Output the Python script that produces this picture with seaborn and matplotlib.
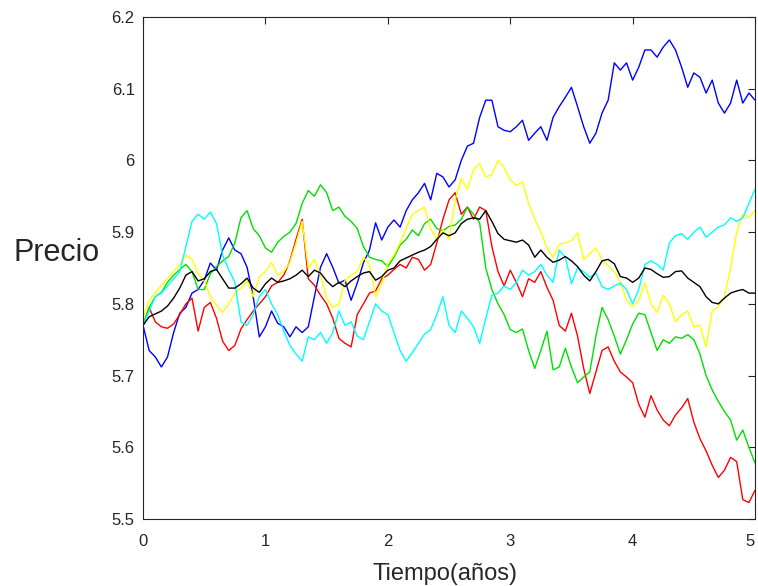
import numpy as np
import pandas as pd
import seaborn as sns
import matplotlib
matplotlib.use("Agg")
import matplotlib.pyplot as plt
from matplotlib.ticker import FormatStrFormatter

# time grid (years), one reading every 0.05 years
tiempo = np.linspace(0, 5, 101)

azul = [5.77, 5.735, 5.726, 5.712, 5.726, 5.76, 5.787, 5.795, 5.815, 5.82,
        5.833, 5.857, 5.847, 5.875, 5.892, 5.875, 5.87, 5.851, 5.81, 5.754,
        5.768, 5.79, 5.773, 5.768, 5.754, 5.768, 5.76, 5.768, 5.81, 5.851,
        5.87, 5.851, 5.829, 5.833, 5.805, 5.829, 5.857, 5.875, 5.913, 5.889,
        5.907, 5.917, 5.907, 5.93, 5.945, 5.955, 5.968, 5.945, 5.982, 5.977,
        5.963, 5.973, 6.0, 6.02, 6.024, 6.06, 6.084, 6.084, 6.047, 6.042,
        6.04, 6.047, 6.056, 6.028, 6.038, 6.047, 6.028, 6.06, 6.075, 6.088,
        6.102, 6.075, 6.047, 6.024, 6.038, 6.066, 6.084, 6.136, 6.126, 6.136,
        6.112, 6.13, 6.154, 6.154, 6.144, 6.158, 6.168, 6.154, 6.13, 6.102,
        6.122, 6.116, 6.094, 6.112, 6.08, 6.066, 6.08, 6.112, 6.08, 6.094,
        6.084]

rojo = [5.77, 5.795, 5.775, 5.768, 5.766, 5.772, 5.785, 5.80, 5.808, 5.762,
        5.795, 5.802, 5.78, 5.748, 5.735, 5.742, 5.765, 5.778, 5.79, 5.80,
        5.81, 5.825, 5.83, 5.84, 5.86, 5.89, 5.918, 5.835, 5.826, 5.812,
        5.80, 5.78, 5.752, 5.745, 5.74, 5.785, 5.80, 5.815, 5.818, 5.835,
        5.84, 5.848, 5.855, 5.85, 5.865, 5.862, 5.847, 5.855, 5.885, 5.918,
        5.945, 5.955, 5.925, 5.935, 5.918, 5.935, 5.93, 5.88, 5.845, 5.825,
        5.847, 5.83, 5.81, 5.835, 5.83, 5.845, 5.823, 5.805, 5.77, 5.762,
        5.787, 5.755, 5.71, 5.675, 5.705, 5.735, 5.74, 5.72, 5.705, 5.698,
        5.69, 5.66, 5.642, 5.672, 5.652, 5.638, 5.63, 5.645, 5.655, 5.668,
        5.635, 5.612, 5.595, 5.575, 5.558, 5.568, 5.586, 5.58, 5.527, 5.523,
        5.54]

verde = [5.77, 5.795, 5.81, 5.816, 5.83, 5.84, 5.848, 5.855, 5.845, 5.82,
         5.82, 5.842, 5.852, 5.86, 5.866, 5.885, 5.92, 5.93, 5.905, 5.895,
         5.878, 5.872, 5.886, 5.894, 5.90, 5.912, 5.94, 5.958, 5.95, 5.966,
         5.955, 5.93, 5.935, 5.922, 5.915, 5.905, 5.88, 5.865, 5.862, 5.86,
         5.852, 5.865, 5.882, 5.89, 5.903, 5.895, 5.912, 5.918, 5.905, 5.902,
         5.908, 5.91, 5.918, 5.935, 5.925, 5.913, 5.85, 5.82, 5.80, 5.785,
         5.764, 5.76, 5.765, 5.735, 5.71, 5.735, 5.762, 5.708, 5.712, 5.738,
         5.712, 5.69, 5.698, 5.705, 5.755, 5.795, 5.778, 5.755, 5.73, 5.75,
         5.772, 5.787, 5.785, 5.76, 5.735, 5.75, 5.745, 5.754, 5.752, 5.757,
         5.75, 5.73, 5.70, 5.68, 5.664, 5.65, 5.638, 5.61, 5.624, 5.60,
         5.578]

amarillo = [5.78, 5.805, 5.815, 5.826, 5.835, 5.845, 5.855, 5.868, 5.862, 5.842,
            5.832, 5.81, 5.798, 5.788, 5.80, 5.815, 5.822, 5.832, 5.81, 5.838,
            5.845, 5.858, 5.84, 5.845, 5.858, 5.885, 5.915, 5.85, 5.862, 5.84,
            5.808, 5.795, 5.80, 5.833, 5.84, 5.845, 5.865, 5.855, 5.81, 5.828,
            5.857, 5.868, 5.885, 5.905, 5.925, 5.93, 5.935, 5.905, 5.89, 5.903,
            5.89, 5.945, 5.975, 5.96, 5.987, 5.996, 5.977, 5.98, 6.0, 5.99,
            5.973, 5.965, 5.97, 5.94, 5.918, 5.90, 5.878, 5.865, 5.883, 5.885,
            5.888, 5.899, 5.862, 5.87, 5.878, 5.862, 5.853, 5.845, 5.83, 5.805,
            5.796, 5.805, 5.829, 5.80, 5.788, 5.812, 5.80, 5.775, 5.785, 5.79,
            5.768, 5.77, 5.74, 5.79, 5.796, 5.81, 5.85, 5.90, 5.925, 5.92,
            5.93]

cian = [5.77, 5.79, 5.81, 5.815, 5.825, 5.835, 5.845, 5.88, 5.915, 5.925,
        5.918, 5.928, 5.912, 5.868, 5.848, 5.83, 5.775, 5.77, 5.785, 5.81,
        5.82, 5.80, 5.785, 5.762, 5.742, 5.73, 5.72, 5.754, 5.75, 5.76,
        5.745, 5.76, 5.79, 5.77, 5.775, 5.755, 5.75, 5.775, 5.80, 5.79,
        5.785, 5.76, 5.735, 5.72, 5.732, 5.745, 5.758, 5.764, 5.785, 5.81,
        5.77, 5.76, 5.79, 5.78, 5.768, 5.745, 5.78, 5.812, 5.815, 5.825,
        5.82, 5.83, 5.847, 5.84, 5.845, 5.855, 5.84, 5.83, 5.875, 5.865,
        5.828, 5.85, 5.845, 5.837, 5.843, 5.824, 5.82, 5.825, 5.829, 5.82,
        5.80, 5.82, 5.855, 5.86, 5.855, 5.847, 5.885, 5.895, 5.898, 5.89,
        5.90, 5.907, 5.893, 5.90, 5.907, 5.91, 5.92, 5.915, 5.92, 5.94,
        5.96]

negro = [5.77, 5.782, 5.786, 5.79, 5.797, 5.808, 5.822, 5.84, 5.845, 5.832,
         5.835, 5.845, 5.848, 5.835, 5.822, 5.822, 5.828, 5.836, 5.822, 5.816,
         5.828, 5.836, 5.83, 5.832, 5.835, 5.84, 5.847, 5.838, 5.847, 5.843,
         5.832, 5.824, 5.83, 5.824, 5.832, 5.838, 5.843, 5.845, 5.833, 5.838,
         5.847, 5.85, 5.86, 5.864, 5.868, 5.872, 5.875, 5.88, 5.89, 5.899,
         5.895, 5.899, 5.912, 5.918, 5.92, 5.918, 5.93, 5.915, 5.898, 5.89,
         5.888, 5.886, 5.889, 5.882, 5.865, 5.875, 5.865, 5.858, 5.861, 5.866,
         5.86, 5.852, 5.84, 5.832, 5.845, 5.86, 5.862, 5.856, 5.838, 5.836,
         5.83, 5.836, 5.85, 5.848, 5.842, 5.837, 5.838, 5.845, 5.846, 5.836,
         5.83, 5.824, 5.81, 5.802, 5.80, 5.808, 5.815, 5.818, 5.82, 5.815,
         5.815]

series = [("azul", azul, "#0000ff"),
          ("rojo", rojo, "#ff0000"),
          ("verde", verde, "#00e000"),
          ("amarillo", amarillo, "#ffff00"),
          ("cian", cian, "#00ffff"),
          ("negro", negro, "#000000")]

sns.set_style("white")
plt.rcParams["font.family"] = ["Liberation Sans", "DejaVu Sans"]

fig = plt.figure(figsize=(7.58, 5.86), dpi=100)
ax = fig.add_axes([0.1887, 0.1143, 0.8074, 0.8567])

for name, vals, col in series:
    sns.lineplot(x=tiempo, y=vals, color=col, linewidth=1.0, ax=ax)

ax.set_xlim(0, 5)
ax.set_ylim(5.5, 6.2)
ax.set_xticks([0, 1, 2, 3, 4, 5])
ax.set_yticks([5.5, 5.6, 5.7, 5.8, 5.9, 6.0, 6.1, 6.2])
ax.yaxis.set_major_formatter(FormatStrFormatter("%g"))
ax.tick_params(direction="in", length=5, width=0.8, labelsize=12,
               top=True, right=True, colors="#262626")
ax.tick_params(axis="x", pad=11)
ax.tick_params(axis="y", pad=6)
for s in ax.spines.values():
    s.set_visible(True)
    s.set_color("#262626")
    s.set_linewidth(0.8)

# last x tick label sits on the figure edge, nudge it inside like the original
ax.get_xticklabels()[-1].set_horizontalalignment("right")

ax.set_xlabel("Tiempo(años)", fontsize=17, color="#262626")
ax.xaxis.set_label_coords(0.4935, -0.1215)
ax.xaxis.label.set_verticalalignment("baseline")

ax.set_ylabel("Precio", fontsize=22, color="#262626", rotation=0)
ax.yaxis.set_label_coords(-0.142, 0.514)
ax.yaxis.label.set_verticalalignment("baseline")
ax.yaxis.label.set_horizontalalignment("center")

fig.savefig("out.png", dpi=100)
